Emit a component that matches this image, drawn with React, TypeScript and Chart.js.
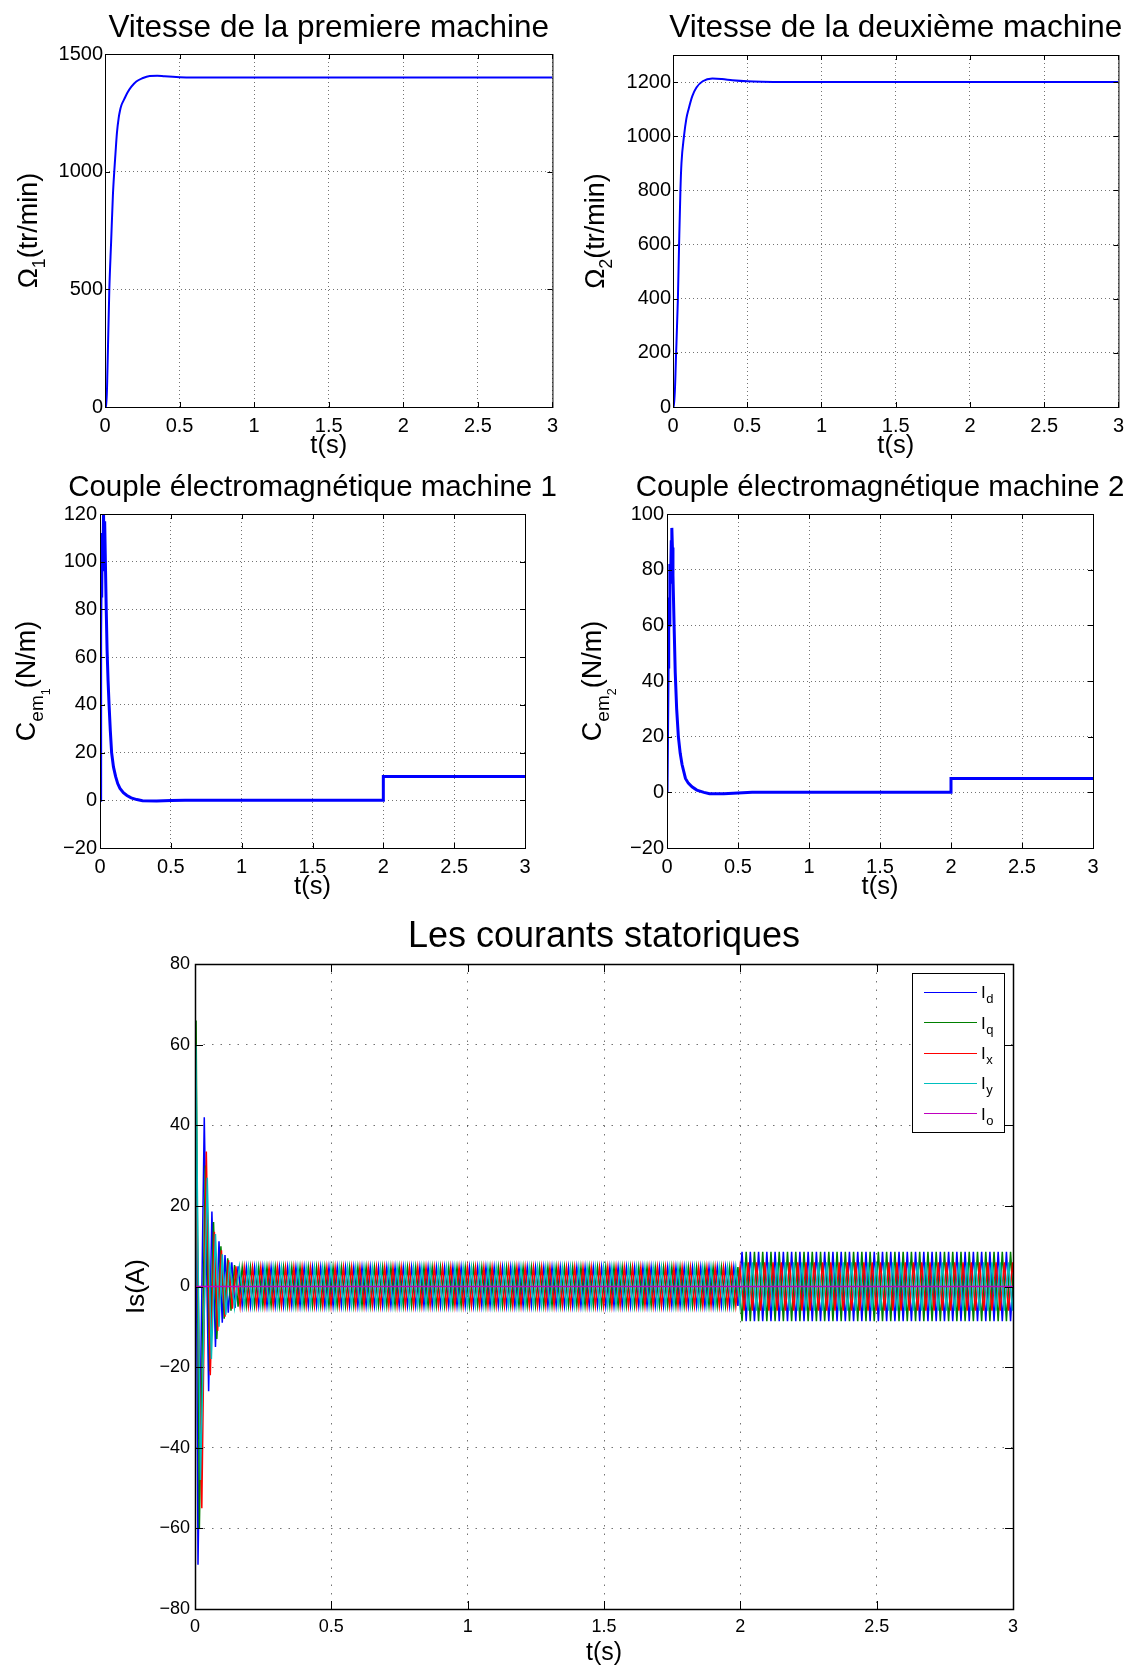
import React, { useEffect, useRef } from 'react';
import { Chart, registerables } from 'chart.js';

Chart.register(...registerables);

const FONT = '"Liberation Sans", Arial, Helvetica, sans-serif';

// ---------- common time axis ----------
const timeTicks = [0, 0.5, 1, 1.5, 2, 2.5, 3];
const timeTickLabels = ['0', '0.5', '1', '1.5', '2', '2.5', '3'];

// ---------- speed machine 1 ----------
const speed1Time = [0, 0.009, 0.017, 0.029, 0.041, 0.053, 0.062, 0.07, 0.08, 0.092, 0.1, 0.11, 0.129, 0.15, 0.177, 0.21, 0.25, 0.3, 0.35, 0.4, 0.5, 0.6, 2, 2.1, 3];
const speed1Value = [0, 0, 172, 500, 700, 900, 1000, 1075, 1165, 1230, 1258, 1282, 1308, 1335, 1361, 1383, 1397, 1407, 1408, 1405, 1401, 1400, 1400, 1400, 1400];
const speed1Ticks = [0, 500, 1000, 1500];

// ---------- speed machine 2 ----------
const speed2Time = [0, 0.007, 0.021, 0.033, 0.041, 0.05, 0.057, 0.074, 0.09, 0.105, 0.13, 0.158, 0.2, 0.265, 0.33, 0.4, 0.5, 0.6, 0.75, 3];
const speed2Value = [0, 0, 200, 400, 600, 800, 900, 1000, 1065, 1100, 1148, 1180, 1203, 1213, 1211, 1207, 1203, 1201, 1200, 1200];
const speed2Ticks = [0, 200, 400, 600, 800, 1000, 1200];

// ---------- torque machine 1 ----------
const torque1Time = [0, 0.003, 0.006, 0.009, 0.012, 0.016, 0.02, 0.025, 0.029, 0.033, 0.038, 0.044, 0.05, 0.057, 0.064, 0.073, 0.082, 0.095, 0.11, 0.125, 0.141, 0.165, 0.19, 0.22, 0.26, 0.3, 0.4, 0.5, 0.6, 2, 2, 3];
const torque1Value = [0, 2, 70, 100, 85, 112, 96, 120, 104, 117, 100, 80, 63, 50, 40, 29, 20, 14, 10, 7, 5, 3.2, 2, 1, 0.3, -0.2, -0.3, -0.1, 0, 0, 10, 10];
const torque1Ticks = [-20, 0, 20, 40, 60, 80, 100, 120];

// ---------- torque machine 2 ----------
const torque2Time = [0, 0.004, 0.008, 0.012, 0.016, 0.02, 0.025, 0.03, 0.034, 0.038, 0.042, 0.05, 0.058, 0.068, 0.08, 0.093, 0.106, 0.13, 0.15, 0.176, 0.21, 0.26, 0.3, 0.4, 0.5, 0.6, 2, 2, 3];
const torque2Value = [0, 0, 45, 70, 60, 82, 75, 90, 95, 88, 78, 60, 43, 30, 20, 14, 10, 5, 3.3, 2, 0.8, 0, -0.5, -0.5, -0.2, 0, 0, 5, 5];
const torque2Ticks = [-20, 0, 20, 40, 60, 80, 100];

// ---------- stator currents: transient turning points ----------
const idTime = [0, 0.004, 0.011, 0.034, 0.05, 0.062, 0.075, 0.088, 0.1, 0.11, 0.122, 0.135, 0.147, 0.158];
const idValue = [0, 25, -69, 42, -26, 18.6, -15, 11.2, -9, 7.8, -6.5, 6, -5.3, 5];
const iqTime = [0, 0.004, 0.016, 0.038, 0.054, 0.068, 0.08, 0.095, 0.107, 0.12, 0.132, 0.145, 0.158];
const iqValue = [0, 66, -60, 30, -21, 16, -13, 10, -8, 7, -6, 5.3, -5];
const ixTime = [0, 0.006, 0.025, 0.0415, 0.056, 0.071, 0.083, 0.097, 0.11, 0.123, 0.137, 0.15, 0.1655];
const ixValue = [0, 22, -55, 33.5, -22, 13.6, -11, 9, -7.5, 6.5, -5.5, 5, -4.9];
const iyTime = [0, 0.003, 0.02, 0.045, 0.06, 0.075, 0.088, 0.1, 0.113, 0.127, 0.1448, 0.1627, 0.1805];
const iyValue = [0, 60, -48, 27, -18, 13, -10, 8, -7, 6, -5.2, 4.9, -4.8];
const ioTime = [0, 3];
const ioValue = [0, 0];
// steady-state oscillation
const halfPeriod = 0.01515; // s, spacing of the visible strokes
const ampBeforeLoad = 4.8; // A
const dqAmpAfterLoad = 8.6; // A
const xyAmpAfterLoad = 6.0; // A
const loadStepTime = 2; // s
const timeEnd = 3.01;
const currentTicks = [-80, -60, -40, -20, 0, 20, 40, 60, 80];
const legendNames = ['d', 'q', 'x', 'y', 'o'];
const legendColors = ['#0000ff', '#008000', '#ff0000', '#00bfbf', '#bf00bf'];

type Pt = { x: number; y: number };

function toPoints(t: number[], v: number[]): Pt[] {
  return t.map((x, i) => ({ x, y: v[i] }));
}

function buildCurrent(t: number[], v: number[], ampAfter: number): Pt[] {
  const pts = toPoints(t, v);
  let time = t[t.length - 1];
  let sign = Math.sign(v[v.length - 1]);
  while (time < timeEnd) {
    time += halfPeriod;
    sign = -sign;
    const amp = time < loadStepTime ? ampBeforeLoad : ampAfter;
    pts.push({ x: time, y: sign * amp });
  }
  return pts;
}

const fmt = (v: number) => String(v).replace('-', '\u2212');

type Part = { text: string; size: number; dy: number };

interface PanelSpec {
  key: string;
  left: number;
  top: number;
  width: number;
  height: number;
  yAxisWidth: number;
  padTop: number;
  padRight: number;
  xAxisHeight: number;
  yMin: number;
  yMax: number;
  yTicks: number[];
  title: string;
  titleSize: number;
  titleBaseline: number;
  yLabel: Part[];
  yLabelBaselineX: number;
  xLabelSize: number;
  xLabelOffset: number;
  tickSize: number;
  yTickPad: number;
  xTickPad: number;
  tickLen: number;
  gridDash: number[];
  frameWidth: number;
  datasets: any[];
  legend?: boolean;
}

function partsWidth(ctx: CanvasRenderingContext2D, parts: Part[]) {
  let w = 0;
  for (const p of parts) {
    ctx.font = `${p.size}px ${FONT}`;
    w += ctx.measureText(p.text).width;
  }
  return w;
}

function drawParts(ctx: CanvasRenderingContext2D, parts: Part[], x0: number, baseline: number) {
  let x = x0;
  for (const p of parts) {
    ctx.font = `${p.size}px ${FONT}`;
    ctx.fillText(p.text, x, baseline + p.dy);
    x += ctx.measureText(p.text).width;
  }
}

function makeDecor(spec: PanelSpec) {
  return {
    id: 'decor_' + spec.key,
    afterDraw(chart: any) {
      const ctx: CanvasRenderingContext2D = chart.ctx;
      const a = chart.chartArea;
      const xs = chart.scales.x;
      const ys = chart.scales.y;
      ctx.save();
      // frame
      ctx.strokeStyle = '#000';
      ctx.lineWidth = spec.frameWidth;
      ctx.setLineDash([]);
      ctx.strokeRect(a.left + 0.5, a.top + 0.5, a.right - a.left, a.bottom - a.top);
      // inner tick marks
      ctx.lineWidth = 1;
      ctx.beginPath();
      for (const t of xs.ticks) {
        const px = Math.round(xs.getPixelForValue(t.value)) + 0.5;
        ctx.moveTo(px, a.bottom);
        ctx.lineTo(px, a.bottom - spec.tickLen);
        ctx.moveTo(px, a.top);
        ctx.lineTo(px, a.top + spec.tickLen);
      }
      for (const t of ys.ticks) {
        const py = Math.round(ys.getPixelForValue(t.value)) + 0.5;
        ctx.moveTo(a.left, py);
        ctx.lineTo(a.left + spec.tickLen, py);
        ctx.moveTo(a.right, py);
        ctx.lineTo(a.right - spec.tickLen, py);
      }
      ctx.stroke();
      ctx.fillStyle = '#000';
      ctx.textAlign = 'left';
      ctx.textBaseline = 'alphabetic';
      const cx = (a.left + a.right) / 2;
      const cy = (a.top + a.bottom) / 2;
      // title
      const tParts: Part[] = [{ text: spec.title, size: spec.titleSize, dy: 0 }];
      drawParts(ctx, tParts, cx - partsWidth(ctx, tParts) / 2, spec.titleBaseline);
      // x label
      const xParts: Part[] = [{ text: 't(s)', size: spec.xLabelSize, dy: 0 }];
      drawParts(ctx, xParts, cx - partsWidth(ctx, xParts) / 2, a.bottom + spec.xLabelOffset);
      // y label (rotated)
      ctx.save();
      ctx.translate(spec.yLabelBaselineX, cy);
      ctx.rotate(-Math.PI / 2);
      drawParts(ctx, spec.yLabel, -partsWidth(ctx, spec.yLabel) / 2, 0);
      ctx.restore();
      // legend
      if (spec.legend) {
        const bx = 912, by = 73, bw = 92, bh = 159;
        ctx.fillStyle = '#fff';
        ctx.fillRect(bx, by, bw, bh);
        ctx.strokeStyle = '#000';
        ctx.lineWidth = 1;
        ctx.strokeRect(bx + 0.5, by + 0.5, bw, bh);
        legendNames.forEach((name, i) => {
          const ly = 91.7 + i * 30.4;
          ctx.strokeStyle = legendColors[i];
          ctx.beginPath();
          ctx.moveTo(924, Math.round(ly) + 0.5);
          ctx.lineTo(977, Math.round(ly) + 0.5);
          ctx.stroke();
          ctx.fillStyle = '#000';
          ctx.font = `17px ${FONT}`;
          ctx.fillText('I', 981, ly + 6.5);
          const w = ctx.measureText('I').width;
          ctx.font = `13px ${FONT}`;
          ctx.fillText(name, 981 + w + 0.5, ly + 11.5);
        });
      }
      ctx.restore();
    },
  };
}

function buildConfig(spec: PanelSpec): any {
  const grid = {
    color: 'rgba(0,0,0,0.55)',
    lineWidth: 1,
    drawTicks: false,
    borderDash: spec.gridDash,
  };
  const border = { display: false, dash: spec.gridDash };
  return {
    type: 'line',
    data: { datasets: spec.datasets },
    plugins: [makeDecor(spec)],
    options: {
      animation: false,
      responsive: false,
      devicePixelRatio: 1,
      events: [],
      layout: { padding: { left: 0, top: spec.padTop, right: spec.padRight, bottom: 0 } },
      plugins: { legend: { display: false }, tooltip: { enabled: false }, title: { display: false } },
      elements: { point: { radius: 0 }, line: { tension: 0 } },
      scales: {
        x: {
          type: 'linear',
          min: 0,
          max: 3,
          grid,
          border,
          afterBuildTicks: (s: any) => {
            s.ticks = timeTicks.map((v) => ({ value: v }));
          },
          afterFit: (s: any) => {
            s.height = spec.xAxisHeight;
          },
          ticks: {
            color: '#000',
            font: { family: FONT, size: spec.tickSize },
            padding: spec.xTickPad,
            maxRotation: 0,
            autoSkip: false,
            callback: (v: number) => timeTickLabels[timeTicks.indexOf(v)] ?? fmt(v),
          },
        },
        y: {
          type: 'linear',
          min: spec.yMin,
          max: spec.yMax,
          grid,
          border,
          afterBuildTicks: (s: any) => {
            s.ticks = spec.yTicks.map((v) => ({ value: v }));
          },
          afterFit: (s: any) => {
            s.width = spec.yAxisWidth;
          },
          ticks: {
            color: '#000',
            font: { family: FONT, size: spec.tickSize },
            padding: spec.yTickPad,
            autoSkip: false,
            callback: (v: number) => fmt(v),
          },
        },
      },
    },
  };
}

function line(points: Pt[], color: string, width: number, order = 0, smooth = false) {
  return {
    data: points,
    borderColor: color,
    backgroundColor: color,
    borderWidth: width,
    pointRadius: 0,
    fill: false,
    tension: 0,
    cubicInterpolationMode: smooth ? 'monotone' : 'default',
    order,
  };
}

const omega1: Part[] = [
  { text: '\u03A9', size: 27, dy: 0 },
  { text: '1', size: 18, dy: 8 },
  { text: '(tr/min)', size: 27, dy: 0 },
];
const omega2: Part[] = [
  { text: '\u03A9', size: 27, dy: 0 },
  { text: '2', size: 18, dy: 8 },
  { text: '(tr/min)', size: 27, dy: 0 },
];
const cem1: Part[] = [
  { text: 'C', size: 27, dy: 0 },
  { text: 'em', size: 19, dy: 8 },
  { text: '1', size: 12.5, dy: 15 },
  { text: '(N/m)', size: 27, dy: 0 },
];
const cem2: Part[] = [
  { text: 'C', size: 27, dy: 0 },
  { text: 'em', size: 19, dy: 8 },
  { text: '2', size: 12.5, dy: 15 },
  { text: '(N/m)', size: 27, dy: 0 },
];

const smallCommon = {
  xLabelSize: 25.5,
  xLabelOffset: 46,
  tickSize: 20,
  xTickPad: 7,
  tickLen: 5,
  gridDash: [1, 3],
  frameWidth: 1,
};

const panels: PanelSpec[] = [
  {
    key: 'w1', left: 0, top: 0, width: 565, height: 460,
    yAxisWidth: 105, padTop: 54, padRight: 10, xAxisHeight: 53,
    yMin: 0, yMax: 1500, yTicks: speed1Ticks,
    title: 'Vitesse de la premiere machine', titleSize: 31.5, titleBaseline: 37,
    yLabel: omega1, yLabelBaselineX: 36.5, yTickPad: 2,
    ...smallCommon,
    datasets: [line(toPoints(speed1Time, speed1Value), '#0000ff', 2, 0, true)],
  },
  {
    key: 'w2', left: 565, top: 0, width: 566, height: 460,
    yAxisWidth: 108, padTop: 55, padRight: 8, xAxisHeight: 53,
    yMin: 0, yMax: 1300, yTicks: speed2Ticks,
    title: 'Vitesse de la deuxième machine', titleSize: 31.5, titleBaseline: 37,
    yLabel: omega2, yLabelBaselineX: 39, yTickPad: 2,
    ...smallCommon,
    datasets: [line(toPoints(speed2Time, speed2Value), '#0000ff', 2, 0, true)],
  },
  {
    key: 'c1', left: 0, top: 460, width: 565, height: 440,
    yAxisWidth: 100, padTop: 54, padRight: 40, xAxisHeight: 52,
    yMin: -20, yMax: 120, yTicks: torque1Ticks,
    title: 'Couple électromagnétique machine 1', titleSize: 29.5, titleBaseline: 36,
    yLabel: cem1, yLabelBaselineX: 34.5, yTickPad: 3,
    ...smallCommon,
    datasets: [line(toPoints(torque1Time, torque1Value), '#0000ff', 3)],
  },
  {
    key: 'c2', left: 565, top: 460, width: 566, height: 440,
    yAxisWidth: 102, padTop: 54, padRight: 38, xAxisHeight: 52,
    yMin: -20, yMax: 100, yTicks: torque2Ticks,
    title: 'Couple électromagnétique machine 2', titleSize: 29.5, titleBaseline: 36,
    yLabel: cem2, yLabelBaselineX: 35.5, yTickPad: 3,
    ...smallCommon,
    datasets: [line(toPoints(torque2Time, torque2Value), '#0000ff', 3)],
  },
  {
    key: 'is', left: 0, top: 900, width: 1131, height: 767,
    yAxisWidth: 195, padTop: 64, padRight: 118, xAxisHeight: 58,
    yMin: -80, yMax: 80, yTicks: currentTicks,
    title: 'Les courants statoriques', titleSize: 36, titleBaseline: 47,
    yLabel: [{ text: 'Is(A)', size: 26, dy: 0 }], yLabelBaselineX: 143.5,
    xLabelSize: 25, xLabelOffset: 51,
    tickSize: 18, yTickPad: 5, xTickPad: 7, tickLen: 8,
    gridDash: [1.5, 7], frameWidth: 1.5,
    legend: true,
    datasets: [
      line(buildCurrent(idTime, idValue, dqAmpAfterLoad), legendColors[0], 1.5, 5),
      line(buildCurrent(iqTime, iqValue, dqAmpAfterLoad), legendColors[1], 1.5, 4),
      line(buildCurrent(ixTime, ixValue, xyAmpAfterLoad), legendColors[2], 1.5, 3),
      line(buildCurrent(iyTime, iyValue, xyAmpAfterLoad), legendColors[3], 1.5, 2),
      line(toPoints(ioTime, ioValue), legendColors[4], 1.5, 1),
    ],
  },
];

function Panel({ spec }: { spec: PanelSpec }) {
  const ref = useRef<HTMLCanvasElement>(null);
  useEffect(() => {
    if (!ref.current) return;
    const chart = new Chart(ref.current, buildConfig(spec));
    return () => chart.destroy();
  }, [spec]);
  return (
    <canvas
      ref={ref}
      width={spec.width}
      height={spec.height}
      style={{ position: 'absolute', left: spec.left, top: spec.top, width: spec.width, height: spec.height }}
    />
  );
}

export default function App() {
  return (
    <div style={{ position: 'absolute', left: 0, top: 0, width: 1131, height: 1667, background: '#fff', overflow: 'hidden' }}>
      {panels.map((p) => (
        <Panel key={p.key} spec={p} />
      ))}
    </div>
  );
}
